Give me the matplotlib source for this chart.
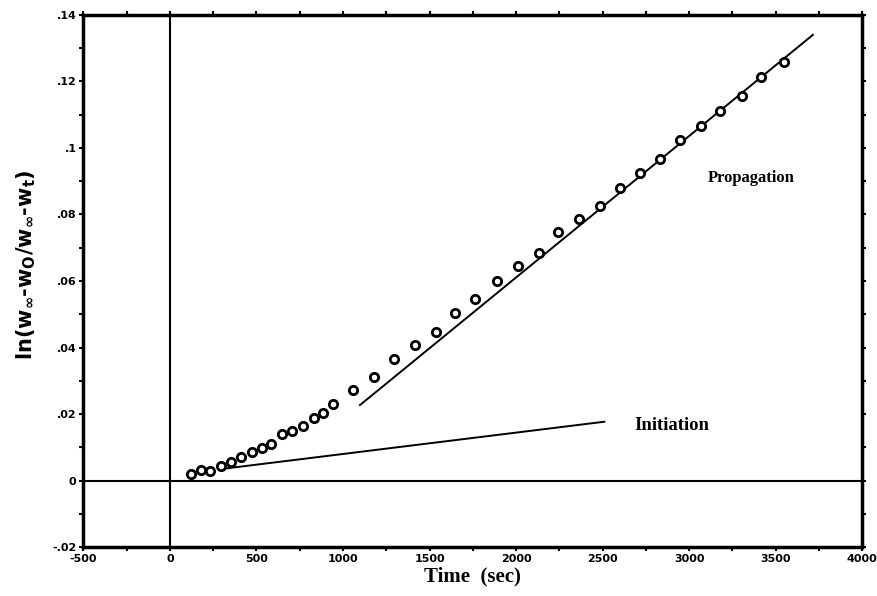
import numpy as np
import matplotlib
matplotlib.use('Agg')
import matplotlib.pyplot as plt
from matplotlib.ticker import MultipleLocator, FixedLocator

# measured points (time in sec, ln ratio)
t_sec = [120, 178, 231, 293, 353, 411, 476, 531, 583, 650, 708, 766, 833, 887,
         945, 1059, 1181, 1292, 1418, 1538, 1648, 1765, 1891, 2010, 2135, 2245,
         2361, 2483, 2598, 2714, 2834, 2950, 3071, 3181, 3306, 3414, 3547]
ln_ratio = [0.0020, 0.0032, 0.0029, 0.0044, 0.0056, 0.0072, 0.0085, 0.0097,
            0.0111, 0.0139, 0.0150, 0.0164, 0.0189, 0.0204, 0.0229, 0.0272,
            0.0312, 0.0366, 0.0407, 0.0446, 0.0505, 0.0547, 0.0600, 0.0645,
            0.0685, 0.0748, 0.0786, 0.0826, 0.0881, 0.0926, 0.0967, 0.1025,
            0.1066, 0.1111, 0.1157, 0.1213, 0.1259]

# fitted lines (end points)
init_x = [330, 2510]
init_y = [0.0037, 0.0177]
prop_x = [1098, 3715]
prop_y = [0.0227, 0.1340]

xticks = [-500, 0, 500, 1000, 1500, 2000, 2500, 3000, 3500, 4000]
yticks = [-0.02, 0, 0.02, 0.04, 0.06, 0.08, 0.1, 0.12, 0.14]
ylabels = ['-.02', '0', '.02', '.04', '.06', '.08', '.1', '.12', '.14']

plt.rcParams['axes.unicode_minus'] = False

fig = plt.figure(figsize=(8.78, 5.96), dpi=100)
ax = fig.add_axes([0.095, 0.082, 0.887, 0.893])

ax.axhline(0, color='k', lw=1.5)
ax.axvline(0, color='k', lw=1.5)
ax.plot(init_x, init_y, color='k', lw=1.4)
ax.plot(prop_x, prop_y, color='k', lw=1.4)
ax.plot(t_sec, ln_ratio, 'o', mfc='white', mec='k', ms=6, mew=2.0)

ax.text(3108, 0.091, 'Propagation', family='Liberation Serif',
        fontweight='bold', fontsize=12, va='center')
ax.text(2685, 0.0167, 'Initiation', family='Liberation Serif',
        fontweight='bold', fontsize=13.5, va='center')

ax.set_xlim(-500, 4000)
ax.set_ylim(-0.02, 0.14)
ax.xaxis.set_major_locator(FixedLocator(xticks))
ax.xaxis.set_minor_locator(MultipleLocator(250))
ax.set_yticks(yticks)
ax.set_yticklabels(ylabels)
ax.yaxis.set_minor_locator(MultipleLocator(0.01))
ax.tick_params(which='both', direction='out', length=3, width=1.5,
               top=True, right=True, labelsize=8, pad=2)
for lab in ax.get_xticklabels() + ax.get_yticklabels():
    lab.set_fontweight('bold')
    lab.set_family('DejaVu Sans')
for s in ax.spines.values():
    s.set_linewidth(2.5)

ax.set_xlabel('Time  (sec)', family='Liberation Serif', fontweight='bold',
              fontsize=15, labelpad=2)
ax.set_ylabel(r'ln(w$_\mathregular{\infty}$-w$_\mathregular{O}$/'
              r'w$_\mathregular{\infty}$-w$_\mathregular{t}$)',
              family='DejaVu Sans', fontweight='bold', fontsize=15)
ax.yaxis.set_label_coords(-0.058, 0.53)

fig.savefig('out.png', dpi=100)
